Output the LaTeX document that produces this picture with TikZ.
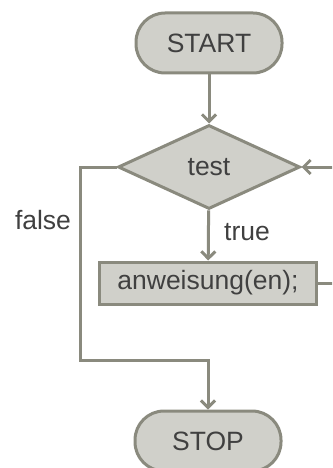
\documentclass[tikz,border=0pt]{standalone}
\usepackage{fontspec}
\setmainfont{Liberation Sans}
\usetikzlibrary{shapes.geometric,arrows.meta}
\definecolor{boxfill}{HTML}{D0D0CA}
\definecolor{boxline}{HTML}{8A8A7E}
\definecolor{ink}{HTML}{404040}
\tikzset{
  every node/.style={font=\fontsize{26.5}{30}\selectfont, text=ink},
  terminal/.style={draw=boxline, fill=boxfill, line width=3pt, rounded corners=29pt, minimum width=146pt, minimum height=60pt, inner sep=0pt},
  decision/.style={draw=boxline, fill=boxfill, line width=3pt, diamond, minimum width=182pt, minimum height=84pt, inner sep=0pt},
  process/.style={draw=boxline, fill=boxfill, line width=3pt, minimum width=217pt, minimum height=42pt, inner sep=0pt},
  flow/.style={draw=boxline, line width=3pt, -{Straight Barb[length=7pt,width=14pt,line width=3pt]}},
}
\begin{document}
\begin{tikzpicture}[x=1pt,y=-1pt]
  \clip (0,0) rectangle (332,468);
  \node[terminal] (start) at (209,43) {START};
  \node[decision] (test) at (209,167) {test};
  \node[process] (act) at (208,283) {anweisung(en);};
  \node[terminal] (stop) at (208,441) {STOP};
  \node (false) at (43,220) {false};
  \node (true) at (247,232) {true};
  \coordinate (fa) at (80,167);
  \coordinate (fb) at (80,360);
  \coordinate (la) at (336,283);
  \coordinate (lb) at (336,167);
  \draw[flow] (start) -- (test);
  \draw[flow] (test) -- (act);
  \draw[flow] (test.west) -- (fa) -- (fb) -| (stop.north);
  \draw[flow] (act.east) -- (la) -- (lb) -- (test.east);
\end{tikzpicture}
\end{document}
